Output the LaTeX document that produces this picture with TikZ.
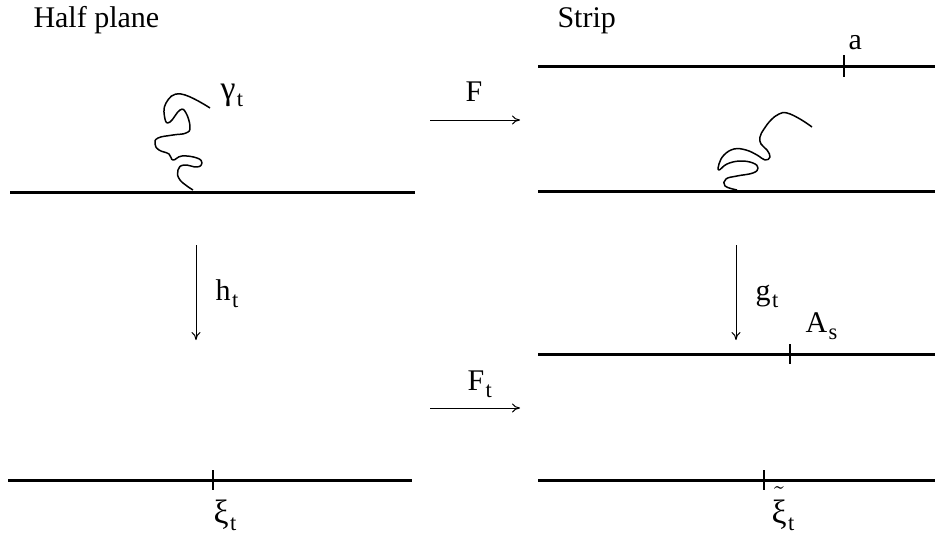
\documentclass[tikz,border=0pt]{standalone}
\usepackage{fontspec}
\setmainfont{Liberation Serif}
\usetikzlibrary{arrows.meta}
\newcommand{\lowidx}[2]{#1\kern0.6pt\raisebox{-3pt}{\fontsize{9}{9}\selectfont #2}}
\newcommand{\grk}[1]{{\fontsize{13.5}{15}\selectfont #1}}
\tikzset{
  edge/.style={line width=1.2pt},
  mapto/.style={-{To[length=3.2pt,width=3.6pt]}, line width=0.4pt},
  tickline/.style={line width=0.45pt},
  trace/.style={line width=0.6pt, line join=round},
  lbl/.style={inner sep=0pt, anchor=base west, font=\fontsize{12}{14}\selectfont}
}

\begin{document}
\begin{tikzpicture}[x=0.4pt, y=-0.4pt]
  \useasboundingbox (0,0) rectangle (935,533);

  % titles
  \node[lbl] (halfplane) at (33,28) {Half plane};
  \node[lbl] (strip) at (557,28) {Strip};

  % half plane, before
  \coordinate (hpAw) at (10,192);
  \coordinate (hpAe) at (415,192);
  \draw[edge] (hpAw) -- (hpAe);
  \draw[trace] plot[smooth, tension=0.75] coordinates {
    (193,190) (180,180) (178,170) (184,165) (197,167) (202,163) (197,158)
    (182,156) (173,160) (169,154) (159,150) (155,144) (158,138) (173,135)
    (186,133) (190,127) (186,113) (180,110) (170,122) (165,119) (166,103)
    (181,94) (210,108)};
  \node[lbl] (gamma) at (220,99) {\lowidx{\grk{γ}}{t}};

  % strip, before
  \coordinate (stAw) at (538,66);
  \coordinate (stAe) at (935,66);
  \coordinate (atick) at (844,66);
  \draw[edge] (stAw) -- (stAe);
  \draw[tickline] (atick) ++(0,-11) -- ++(0,22);
  \node[lbl] (alabel) at (848,50) {a};

  \coordinate (stBw) at (538,191);
  \coordinate (stBe) at (935,191);
  \draw[edge] (stBw) -- (stBe);
  \draw[trace] plot[smooth, tension=0.7] coordinates {
    (737,190) (725,186) (726,179) (737,176) (753,173) (758,168) (753,163)
    (740,161) (727,164) (719,170) (719,164) (724,155) (734,149) (746,150)
    (757,155) (765,160) (770,157) (767,150) (761,144) (760,137) (764,129)
    (771,120) (779,114) (787,113) (800,119) (812,127)};

  % map F
  \coordinate (Fs) at (430,120);
  \coordinate (Fe) at (520,120);
  \draw[mapto] (Fs) -- (Fe);
  \node[lbl] (Flabel) at (465,102) {F};

  % maps h_t and g_t
  \coordinate (hs) at (196,245);
  \coordinate (he) at (196,340);
  \draw[mapto] (hs) -- (he);
  \node[lbl] (hlabel) at (215,300) {\lowidx{h}{t}};

  \coordinate (gs) at (736,245);
  \coordinate (ge) at (736,340);
  \draw[mapto] (gs) -- (ge);
  \node[lbl] (glabel) at (755,300) {\lowidx{g}{t}};

  % strip, after
  \coordinate (stCw) at (538,354);
  \coordinate (stCe) at (935,354);
  \coordinate (Atick) at (790,354);
  \draw[edge] (stCw) -- (stCe);
  \draw[tickline] (Atick) ++(0,-10) -- ++(0,20);
  \node[lbl] (Alabel) at (805,332) {\lowidx{A}{s}};

  % map F_t
  \coordinate (Fts) at (430,408);
  \coordinate (Fte) at (520,408);
  \draw[mapto] (Fts) -- (Fte);
  \node[lbl] (Ftlabel) at (467,390) {\lowidx{F}{t}};

  % bottom lines
  \coordinate (hpBw) at (8,480);
  \coordinate (hpBe) at (412,480);
  \coordinate (xitick) at (213,480);
  \draw[edge] (hpBw) -- (hpBe);
  \draw[tickline] (xitick) ++(0,-10) -- ++(0,20);
  \node[lbl] (xilabel) at (213,523) {\lowidx{\grk{ξ}}{t}};

  \coordinate (stDw) at (538,480);
  \coordinate (stDe) at (935,480);
  \coordinate (xttick) at (764,480);
  \draw[edge] (stDw) -- (stDe);
  \draw[tickline] (xttick) ++(0,-10) -- ++(0,20);
  \node[lbl] (xtlabel) at (771,523)
    {\lowidx{$\tilde{\hbox{\raisebox{0pt}[\dimexpr\height+2.2pt]{\grk{ξ}}}}$}{t}};
\end{tikzpicture}
\end{document}
